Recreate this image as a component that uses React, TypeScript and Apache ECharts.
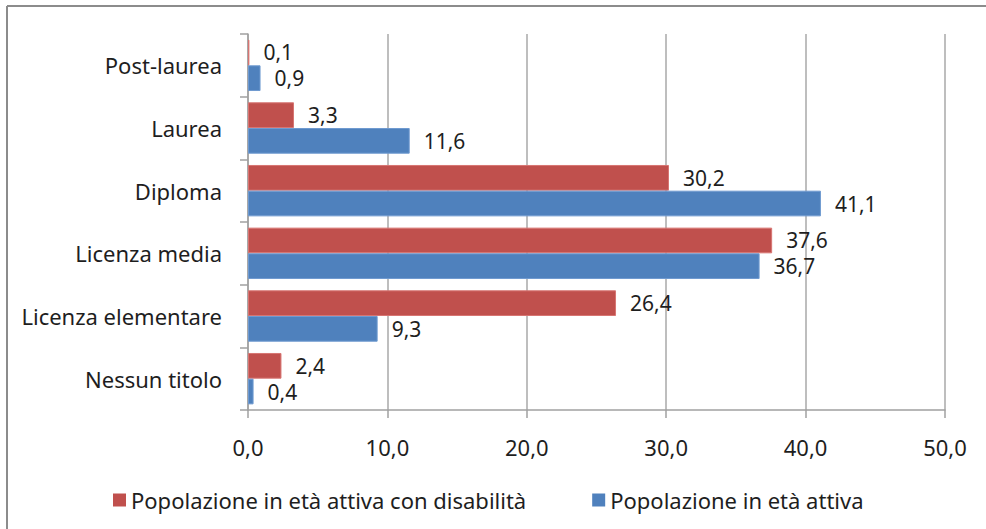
import React, { useEffect, useRef } from "react";
import * as echarts from "echarts";

const categories = ["Nessun titolo", "Licenza elementare", "Licenza media", "Diploma", "Laurea", "Post-laurea"];
const disabledValues = [2.4, 26.4, 37.6, 30.2, 3.3, 0.1];
const activeValues = [0.4, 9.3, 36.7, 41.1, 11.6, 0.9];
const seriesNames = ["Popolazione in età attiva con disabilità", "Popolazione in età attiva"];
const xTicks = { min: 0, max: 50, interval: 10 };

const FONT = "'Noto Sans', 'Open Sans', sans-serif";
const TEXT = "#1e1e1e";
const fmt = (v: number) => v.toFixed(1).replace(".", ",");

export default function App() {
  const ref = useRef<HTMLDivElement>(null);
  useEffect(() => {
    if (!ref.current) return;
    const chart = echarts.init(ref.current, undefined, { renderer: "svg" });
    const label = {
      show: true,
      position: "right" as const,
      distance: 14,
      fontFamily: FONT,
      fontSize: 21,
      lineHeight: 22,
      color: TEXT,
      formatter: (p: any) => fmt(p.value),
    };
    chart.setOption({
      animation: false,
      backgroundColor: "#fff",
      textStyle: { fontFamily: FONT },
      grid: { left: 248, right: 41, top: 34, bottom: 119, containLabel: false },
      legend: {
        data: seriesNames,
        left: 108,
        top: 484,
        itemWidth: 13,
        itemHeight: 13,
        itemGap: 66,
        icon: "rect",
        itemStyle: { borderWidth: 0 },
        textStyle: { fontFamily: FONT, fontSize: 22, color: TEXT },
      },
      xAxis: {
        type: "value",
        min: xTicks.min,
        max: xTicks.max,
        interval: xTicks.interval,
        axisLine: { show: true, lineStyle: { color: "#a0a0a0", width: 1.5 } },
        axisTick: { show: true, length: 8, lineStyle: { color: "#a0a0a0", width: 1.5 } },
        splitLine: { show: true, lineStyle: { color: "#a8a8a8", width: 1.5 } },
        axisLabel: { fontFamily: FONT, fontSize: 22, color: TEXT, margin: 26, formatter: (v: number) => fmt(v) },
      },
      yAxis: {
        type: "category",
        data: categories,
        axisLine: { show: true, lineStyle: { color: "#a0a0a0", width: 1.5 } },
        axisTick: { show: true, length: 8, lineStyle: { color: "#a0a0a0", width: 1.5 } },
        axisLabel: { fontFamily: FONT, fontSize: 22, color: TEXT, margin: 26 },
      },
      series: [
        {
          name: seriesNames[0],
          type: "bar",
          data: disabledValues,
          itemStyle: { color: "#C0504D", borderColor: "#d77572", borderWidth: 1 },
          barGap: "0%",
          barCategoryGap: "18%",
          label,
        },
        {
          name: seriesNames[1],
          type: "bar",
          data: activeValues,
          itemStyle: { color: "#4F81BD", borderColor: "#6f9ad0", borderWidth: 1 },
          barGap: "0%",
          barCategoryGap: "18%",
          label,
        },
      ],
      graphic: [
        { type: "line", shape: { x1: 7, y1: 6, x2: 7, y2: 529 }, style: { stroke: "#8c8c8c", lineWidth: 2 } },
        { type: "line", shape: { x1: 7, y1: 6, x2: 986, y2: 6 }, style: { stroke: "#8c8c8c", lineWidth: 2 } },
      ],
    });
    return () => chart.dispose();
  }, []);
  return <div ref={ref} style={{ position: "fixed", left: 0, top: 0, width: 986, height: 529 }} />;
}
